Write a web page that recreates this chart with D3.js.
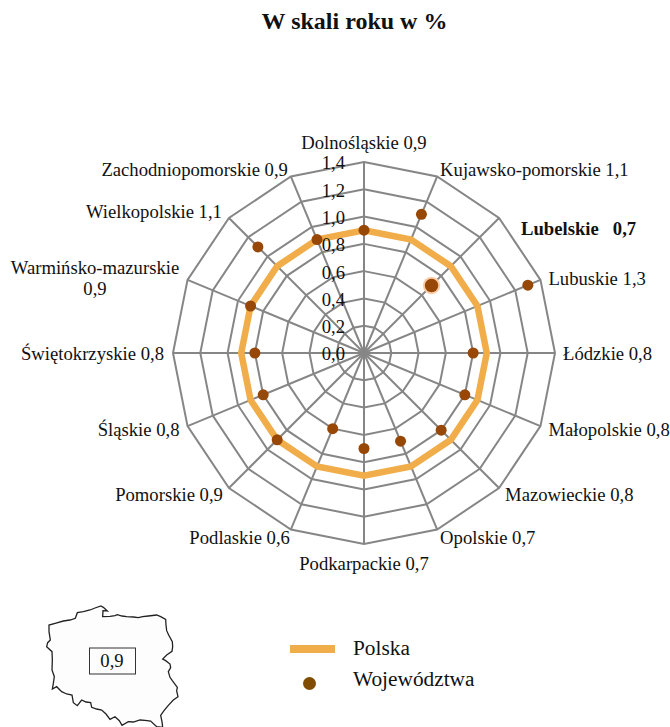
<!DOCTYPE html>
<html lang="pl">
<head>
<meta charset="utf-8">
<title>W skali roku w %</title>
<script src="https://cdn.jsdelivr.net/npm/d3@7"></script>
<style>
  html, body { margin: 0; padding: 0; background: #fff; }
  svg { display: block; }
  text { font-family: "Liberation Serif", serif; fill: #111; white-space: pre; }
</style>
</head>
<body>
<svg id="chart" width="670" height="727"></svg>
<script>
const regions = ['Dolnośląskie', 'Kujawsko-pomorskie', 'Lubelskie', 'Lubuskie', 'Łódzkie', 'Małopolskie',
  'Mazowieckie', 'Opolskie', 'Podkarpackie', 'Podlaskie', 'Pomorskie', 'Śląskie',
  'Świętokrzyskie', 'Warmińsko-mazurskie', 'Wielkopolskie', 'Zachodniopomorskie'];
const regionValues = [0.9, 1.1, 0.7, 1.3, 0.8, 0.8, 0.8, 0.7, 0.7, 0.6, 0.9, 0.8, 0.8, 0.9, 1.1, 0.9];
const polskaValues = [0.9, 0.9, 0.9, 0.9, 0.9, 0.9, 0.9, 0.9, 0.9, 0.9, 0.9, 0.9, 0.9, 0.9, 0.9, 0.9];
const radialTicks = [0, 0.2, 0.4, 0.6, 0.8, 1.0, 1.2, 1.4];
const highlighted = 'Lubelskie';
const polskaTotal = 0.9;

// hand traced contour of the country, in the units of the little map
const mapOutline = [[303,48],[310,52],[322,63],[309,62],[308,80],[330,79],[345,77],[352,74],[366,78],[380,80],
  [400,81],[415,83],[428,80],[445,78],[470,75],[482,80],[497,88],[498,105],[500,122],[506,135],[517,155],
  [518,170],[516,184],[500,195],[488,207],[497,212],[510,222],[512,233],[505,245],[510,262],[517,272],[532,292],
  [530,303],[534,320],[520,330],[505,346],[492,362],[482,376],[486,395],[488,412],[470,410],[452,393],
  [435,391],[420,390],[400,396],[385,395],[366,406],[358,392],[345,380],[330,388],[318,372],[305,360],
  [290,357],[275,352],[272,338],[258,336],[245,330],[232,347],[220,338],[216,315],[200,312],[185,305],
  [170,290],[157,297],[160,280],[163,260],[156,240],[157,210],[156,185],[140,170],[143,158],[151,150],
  [147,125],[147,105],[168,99],[190,93],[210,90],[226,85],[232,68],[250,65],[270,60],[285,54]];

const width = 670;
const height = 727;
const cx = 364;
const cy = 353;
const outer = 191;

// where each label sits relative to the end of its spoke
const labelOffsets = [[0, -13, 'middle'], [3, -1, 'start'], [22, 17, 'start'], [8, 5, 'start'],
  [8, 7, 'start'], [8, 10, 'start'], [6, 13, 'start'], [3, 15, 'start'],
  [0, 26, 'middle'], [-1, 15, 'end'], [-6, 13, 'end'], [-8, 10, 'end'],
  [-9, 7, 'end'], [-8, -6, 'end'], [-7, 0, 'end'], [-3, -1, 'end']];

const comma = d => d.toFixed(1).replace('.', ',');

const svg = d3.select('#chart');

const angle = d3.scaleBand().domain(regions).range([0, 2 * Math.PI]).align(0);
const r = d3.scaleLinear().domain([0, 1.4]).range([0, outer]);
const tipX = (name, v) => cx + r(v) * Math.sin(angle(name));
const tipY = (name, v) => cy - r(v) * Math.cos(angle(name));

svg.append('text')
  .attr('x', 354.5)
  .attr('y', 29)
  .attr('text-anchor', 'middle')
  .attr('font-size', 24)
  .attr('font-weight', 'bold')
  .text('W skali roku w %');

const radar = svg.append('g').attr('transform', `translate(${cx},${cy})`);

const ring = d3.lineRadial()
  .angle(d => angle(d))
  .curve(d3.curveLinearClosed);

const grid = radar.append('g').attr('fill', 'none').attr('stroke', '#868686').attr('stroke-width', 2);

grid.selectAll('path')
  .data(radialTicks.filter(t => t > 0))
  .join('path')
  .attr('d', t => ring.radius(() => r(t))(regions));

grid.selectAll('line')
  .data(regions)
  .join('line')
  .attr('x2', d => r(1.4) * Math.sin(angle(d)))
  .attr('y2', d => -r(1.4) * Math.cos(angle(d)));

radar.append('path')
  .attr('fill', 'none')
  .attr('stroke', '#f0ad4a')
  .attr('stroke-width', 6.5)
  .attr('stroke-linejoin', 'miter')
  .attr('d', d3.lineRadial()
    .angle((d, i) => angle(regions[i]))
    .radius(d => r(d))
    .curve(d3.curveLinearClosed)(polskaValues));

// radial value labels, on a plain d3 axis going up the first spoke
const tickScale = d3.scaleLinear().domain([0, 1.4]).range([cy + 1, cy + 1 - outer]);
const axis = svg.append('g')
  .attr('transform', `translate(${cx},0)`)
  .call(d3.axisLeft(tickScale).tickValues(radialTicks).tickFormat(comma).tickSize(0).tickPadding(19));
axis.select('.domain').remove();
axis.selectAll('text').attr('font-size', 18.67).attr('font-family', '"Liberation Serif", serif').attr('fill', '#111');

svg.append('g').selectAll('circle.halo')
  .data([highlighted])
  .join('circle')
  .attr('cx', d => tipX(d, regionValues[regions.indexOf(d)]))
  .attr('cy', d => tipY(d, regionValues[regions.indexOf(d)]))
  .attr('r', 8.7)
  .attr('fill', '#fbcba6');

svg.append('g').selectAll('circle')
  .data(regions)
  .join('circle')
  .attr('cx', (d, i) => tipX(d, regionValues[i]))
  .attr('cy', (d, i) => tipY(d, regionValues[i]))
  .attr('r', d => d === highlighted ? 6.7 : 5.5)
  .attr('fill', '#974706');

const labels = svg.append('g').attr('font-size', 18.67);

regions.forEach((name, i) => {
  const [dx, dy, anchor] = labelOffsets[i];
  const value = comma(regionValues[i]);
  const x = tipX(name, 1.4) + dx;
  const y = tipY(name, 1.4) + dy;
  if (name === 'Warmińsko-mazurskie') {
    // wraps onto two lines in the original
    const t = labels.append('text').attr('text-anchor', 'middle');
    t.append('tspan').attr('x', 95).attr('y', y).text(name);
    t.append('tspan').attr('x', 95).attr('y', y + 21).text(value);
  } else {
    labels.append('text')
      .attr('x', x)
      .attr('y', y)
      .attr('text-anchor', anchor)
      .attr('font-weight', name === highlighted ? 'bold' : null)
      .text(name === highlighted ? `${name}   ${value}` : `${name} ${value}`);
  }
});

// little map in the lower left corner
const mapX = d3.scaleLinear().domain([0, 3]).range([0, 1]);
const mapY = d3.scaleLinear().domain([0, 3]).range([590, 591]);
svg.append('path')
  .attr('d', d3.line().x(d => mapX(d[0])).y(d => mapY(d[1])).curve(d3.curveLinearClosed)(mapOutline))
  .attr('fill', '#fdfdfd')
  .attr('stroke', '#222')
  .attr('stroke-width', 1.3);

svg.append('rect')
  .attr('x', 89.5).attr('y', 648)
  .attr('width', 46).attr('height', 26)
  .attr('fill', '#fdfdfd')
  .attr('stroke', '#333');

svg.append('text')
  .attr('x', 112)
  .attr('y', 667)
  .attr('text-anchor', 'middle')
  .attr('font-size', 18.67)
  .text(comma(polskaTotal));

// legend
svg.append('rect')
  .attr('x', 290).attr('y', 645)
  .attr('width', 45).attr('height', 8)
  .attr('fill', '#f0ad4a');
svg.append('circle')
  .attr('cx', 309.5).attr('cy', 683.5).attr('r', 6.5)
  .attr('fill', '#7f4c00');
svg.append('text').attr('x', 353).attr('y', 655).attr('font-size', 21.33).text('Polska');
svg.append('text').attr('x', 353).attr('y', 686).attr('font-size', 21.33).text('Województwa');
</script>
</body>
</html>
